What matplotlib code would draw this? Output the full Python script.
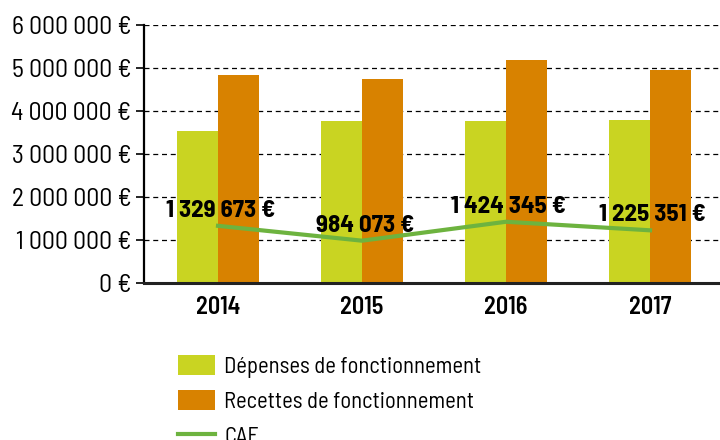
import numpy as np
import matplotlib
matplotlib.use("Agg")
import matplotlib.pyplot as plt
from matplotlib.ticker import FuncFormatter, MultipleLocator

years = ["2014", "2015", "2016", "2017"]
depenses = [3540000, 3770000, 3770000, 3790000]
recettes = [4840000, 4750000, 5190000, 4960000]
caf = [1329673, 984073, 1424345, 1225351]

GREEN_BAR = "#c9d422"
ORANGE_BAR = "#d88200"
LINE_GREEN = "#6db33f"

plt.rcParams['font.family'] = ['Barlow Semi Condensed', 'DejaVu Sans']


def fmt(v):
    return "{:,}".format(int(round(v))).replace(",", " ") + " €"


fig = plt.figure(figsize=(7.2, 4.4), dpi=100)
ax = fig.add_axes([0.2, 1 - 283 / 440, 0.8, 258 / 440])

x = np.arange(len(years))
w = 0.285
b1 = ax.bar(x - w / 2, depenses, w, color=GREEN_BAR, label="Dépenses de fonctionnement", zorder=2)
b2 = ax.bar(x + w / 2, recettes, w, color=ORANGE_BAR, label="Recettes de fonctionnement", zorder=2)
ln, = ax.plot(x, caf, color=LINE_GREEN, lw=3, label="CAF", zorder=3)

# CAF values above the line
for xi, v in zip(x, caf):
    ax.annotate(fmt(v), (xi, v), xytext=(2, 3), textcoords="offset points",
                ha="center", va="bottom", fontsize=18, fontweight="bold", zorder=4)

ax.set_xlim(-0.514, 3.486)
ax.set_ylim(0, 6000000)
ax.yaxis.set_major_locator(MultipleLocator(1000000))
ax.yaxis.set_major_formatter(FuncFormatter(lambda v, p: fmt(v)))
ax.grid(axis="y", linestyle=(0, (4, 3)), color="black", lw=0.9, zorder=1)
ax.set_xticks(x)
ax.set_xticklabels(years, fontweight="semibold", fontsize=17.5)
ax.tick_params(axis="x", length=0, pad=9)
ax.tick_params(axis="y", length=6, width=1.2, labelsize=18.5, pad=3, color="black")

ax.spines['right'].set_visible(False)
ax.spines['top'].set_visible(False)
ax.spines['left'].set_linewidth(1.6)
ax.spines['bottom'].set_linewidth(2.2)
ax.spines['bottom'].set_color("#222222")

fig.legend(handles=[b1, b2, ln], loc="upper left", bbox_to_anchor=(178 / 720, 1 - 355 / 440),
           frameon=False, fontsize=16.3, borderpad=0, borderaxespad=0,
           handlelength=1.65, handleheight=0.95, handletextpad=0.4, labelspacing=0.55)

plt.savefig("out.png", dpi=100)
